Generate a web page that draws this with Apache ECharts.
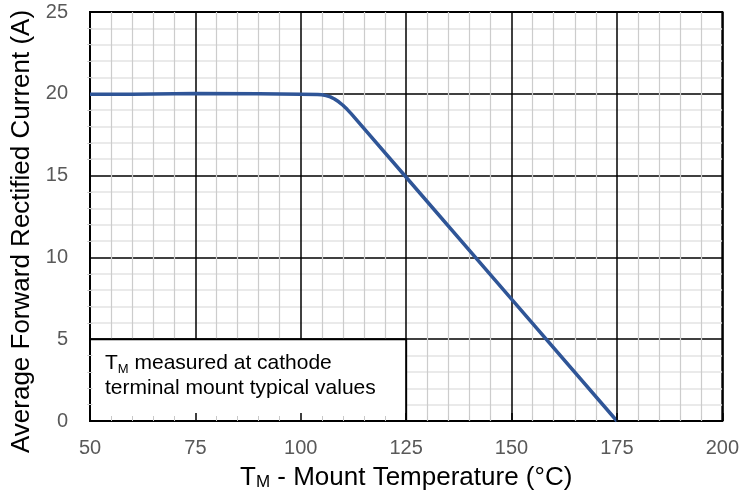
<!DOCTYPE html>
<html>
<head>
<meta charset="utf-8">
<script src="https://cdn.jsdelivr.net/npm/echarts@6/dist/echarts.min.js"></script>
<style>
  html, body { margin: 0; padding: 0; background: #fff; }
  #chart { width: 742px; height: 498px; }
</style>
</head>
<body>
<div id="chart"></div>
<script>
// values
const tempC = [50, 60, 75, 90, 100, 104, 105, 106, 107, 108, 109, 110, 111, 112, 125, 150, 175];
const currentA = [19.97, 19.98, 20.02, 20.01, 19.98, 19.96, 19.94, 19.89, 19.81, 19.68, 19.51, 19.3, 19.05, 18.77, 14.9, 7.45, 0];
const xTicks = [50, 75, 100, 125, 150, 175, 200];
const yTicks = [0, 5, 10, 15, 20, 25];
const noteBox = [[50, 0], [125, 5]];

const font = 'Liberation Sans, Arial, sans-serif';
const plotW = 742 - 90 - 17;
const plotH = 498 - 12 - 77;
const chart = echarts.init(document.getElementById('chart'));

// axes that only draw the short ticks above the note box
const tickOnly = (min, max, interval, position, offset, majorLen) => ({
  type: 'value', min, max, interval, position, offset,
  axisLine: { show: false, onZero: false },
  axisLabel: { show: false },
  splitLine: { show: false },
  axisTick: { show: majorLen > 0, inside: false, length: majorLen, lineStyle: { color: '#000', width: 1.5 } },
  minorTick: { show: true, splitNumber: 5, length: 5, lineStyle: { color: '#c8c8c8', width: 1 } },
  z: 5
});

chart.setOption({
  animation: false,
  grid: { left: 90, right: 17, top: 12, bottom: 77, show: true, borderColor: '#000', borderWidth: 2 },
  xAxis: [{
    type: 'value',
    min: xTicks[0], max: xTicks[xTicks.length - 1], interval: 25,
    axisLine: { show: false },
    axisTick: { show: false },
    axisLabel: { color: '#595959', fontSize: 20, fontFamily: font, margin: 17 },
    splitLine: { show: true, lineStyle: { color: '#000', width: 1.5 } },
    minorTick: { show: false, splitNumber: 5 },
    minorSplitLine: { show: true, lineStyle: { color: '#cccccc', width: 1.2 } },
    name: '{n|T}{s|M}{n| - Mount Temperature (°C)}',
    nameLocation: 'middle',
    nameGap: 44,
    nameTextStyle: {
      rich: {
        n: { fontSize: 26, fontFamily: font, color: '#000' },
        s: { fontSize: 17, fontFamily: font, color: '#000', verticalAlign: 'bottom', padding: [8, 0, 0, 0] }
      }
    }
  }, tickOnly(50, 200, 25, 'top', -plotH, 8)],
  yAxis: [{
    type: 'value',
    min: yTicks[0], max: yTicks[yTicks.length - 1], interval: 5,
    axisLine: { show: false },
    axisTick: { show: false },
    axisLabel: { color: '#595959', fontSize: 20, fontFamily: font, margin: 22 },
    splitLine: { show: true, lineStyle: { color: '#000', width: 1.5 } },
    minorTick: { show: false, splitNumber: 5 },
    minorSplitLine: { show: true, lineStyle: { color: '#e4e4e4', width: 1.5 } },
    name: 'Average Forward Rectified Current (A)',
    nameLocation: 'middle',
    nameGap: 55,
    nameTextStyle: { fontSize: 26, fontFamily: font, color: '#000', padding: [0, 30, 0, 0] }
  }, tickOnly(0, 25, 5, 'right', -plotW, 0)],
  series: [{
    type: 'line',
    data: tempC.map((t, i) => [t, currentA[i]]),
    showSymbol: false,
    lineStyle: { color: '#2f5597', width: 3.5 },
    z: 4,
    markArea: {
      silent: true,
      itemStyle: { color: '#fff', borderColor: '#000', borderWidth: 2 },
      label: {
        show: true,
        position: [16, 13],
        formatter: '{n|T}{s|M}{n| measured at cathode}\n{n|terminal mount typical values}',
        rich: {
          n: { fontSize: 21, fontFamily: font, color: '#000', lineHeight: 25 },
          s: { fontSize: 13, fontFamily: font, color: '#000', lineHeight: 25, verticalAlign: 'bottom', padding: [6, 0, 0, 0] }
        }
      },
      data: [[{ coord: noteBox[0] }, { coord: noteBox[1] }]]
    }
  }]
});
</script>
</body>
</html>
